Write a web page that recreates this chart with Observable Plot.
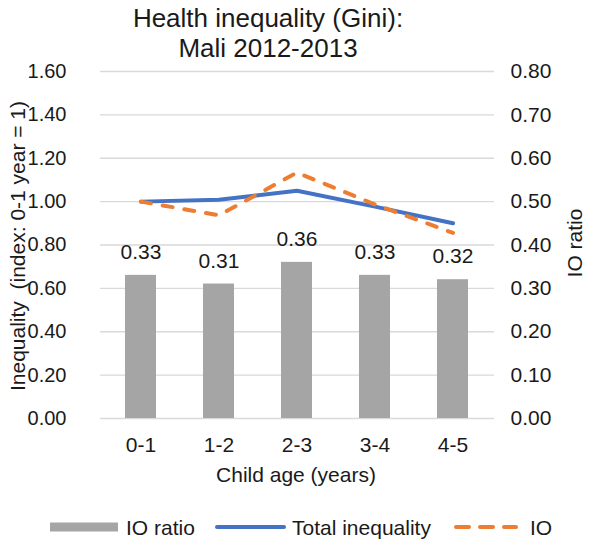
<!DOCTYPE html>
<html><head><meta charset="utf-8">
<script src="https://cdn.jsdelivr.net/npm/d3@7"></script>
<script src="https://cdn.jsdelivr.net/npm/@observablehq/plot@0.6"></script>
<style>body{margin:0;background:#fff;} svg{font-family:"Liberation Sans",Arial,sans-serif;}</style>
</head><body><div id="chart"></div>
<script>
const ages = ["0-1", "1-2", "2-3", "3-4", "4-5"];
const ioRatio = [0.33, 0.31, 0.36, 0.33, 0.32];
const totalIneq = [1.00, 1.009, 1.05, 0.977, 0.90];
const ioIneq = [1.00, 0.937, 1.134, 0.987, 0.856];
const leftTicks = [0, 0.2, 0.4, 0.6, 0.8, 1.0, 1.2, 1.4, 1.6];

const barData = ages.map((a, i) => ({age: a, v: ioRatio[i], scaled: ioRatio[i] * 2}));
const totData = ages.map((a, i) => ({age: a, v: totalIneq[i]}));
const ioData = ages.map((a, i) => ({age: a, v: ioIneq[i]}));

const W = 590, H = 547, FS = 21, TFS = 20;
const chart = Plot.plot({
  width: W, height: H,
  marginTop: 71, marginBottom: 129, marginLeft: 100, marginRight: 96,
  style: {fontFamily: "Liberation Sans, Arial, sans-serif", fontSize: FS + "px", color: "#1a1a1a", background: "#fff"},
  x: {domain: ages, paddingInner: 0.6, paddingOuter: 0.3, label: null},
  y: {domain: [0, 1.6], label: null},
  marks: [
    Plot.gridY(leftTicks, {stroke: "#d9d9d9", strokeOpacity: 1, strokeWidth: 1.3}),
    Plot.barY(barData, {x: "age", y: "scaled", fill: "#a5a5a5"}),
    Plot.text(barData, {x: "age", y: "scaled", text: d => d.v.toFixed(2), dy: -23, fontSize: FS, fill: "#1a1a1a"}),
    Plot.line(totData, {x: "age", y: "v", stroke: "#4472c4", strokeWidth: 4, strokeLinecap: "round", strokeLinejoin: "round"}),
    Plot.line(ioData, {x: "age", y: "v", stroke: "#ed7d31", strokeWidth: 4, strokeDasharray: "10,12", strokeLinecap: "round", strokeLinejoin: "round"}),
    Plot.axisY(leftTicks, {anchor: "left", tickSize: 0, tickPadding: 34, tickFormat: d => d.toFixed(2), label: null, fontSize: TFS}),
    Plot.axisY(leftTicks, {anchor: "right", tickSize: 0, tickPadding: 16, tickFormat: d => (d / 2).toFixed(2), label: null, fontSize: FS}),
    Plot.axisX({tickSize: 0, tickPadding: 19, label: null, fontSize: FS})
  ]
});
document.getElementById("chart").appendChild(chart);

const svg = d3.select(chart);
const txt = (x, y, s, opts = {}) => {
  const t = svg.append("text").attr("x", x).attr("y", y).text(s)
    .attr("fill", "#1a1a1a").attr("font-size", opts.size || FS)
    .attr("text-anchor", opts.anchor || "middle");
  if (opts.rotate) t.attr("transform", `rotate(-90 ${x} ${y})`);
  return t;
};
txt(268, 27, "Health inequality (Gini):", {size: 26});
txt(268, 57, "Mali 2012-2013", {size: 26});
txt(296, 482, "Child age (years)");
txt(25, 246, "Inequality  (index: 0-1 year = 1)", {rotate: true}).style("white-space", "pre");
txt(582, 243, "IO ratio", {rotate: true});

// legend
const ly = 527;
svg.append("rect").attr("x", 50).attr("y", ly - 4.5).attr("width", 68).attr("height", 9).attr("fill", "#a5a5a5");
txt(126, ly + 7.5, "IO ratio", {anchor: "start"});
svg.append("line").attr("x1", 217).attr("x2", 284).attr("y1", ly).attr("y2", ly).attr("stroke", "#4472c4").attr("stroke-width", 4).attr("stroke-linecap", "round");
txt(292, ly + 7.5, "Total inequality", {anchor: "start"});
svg.append("line").attr("x1", 456).attr("x2", 516).attr("y1", ly).attr("y2", ly).attr("stroke", "#ed7d31").attr("stroke-width", 4).attr("stroke-dasharray", "13,11").attr("stroke-linecap", "round");
txt(530, ly + 7.5, "IO", {anchor: "start"});
</script></body></html>
